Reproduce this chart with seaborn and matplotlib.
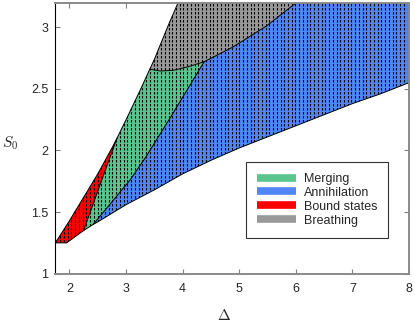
import numpy as np
import matplotlib
matplotlib.use('Agg')
import matplotlib.pyplot as plt
import seaborn as sns
from matplotlib.lines import Line2D

# boundary curves: (Delta, S0)
left_x = [1.75, 2.0, 2.25, 2.5, 2.75, 2.84, 3.0, 3.25, 3.42, 3.5, 3.75, 3.92]
left_s = [1.25, 1.43, 1.62, 1.81, 2.02, 2.10, 2.25, 2.49, 2.66, 2.74, 3.02, 3.2]

lower_x = [1.75, 1.95, 2.25, 2.42, 2.5, 3.0, 3.5, 4.0, 4.5, 5.0, 5.5, 6.0, 6.5, 7.0, 7.5, 8.0]
lower_s = [1.25, 1.25, 1.35, 1.40, 1.42, 1.56, 1.68, 1.81, 1.92, 2.02, 2.11, 2.20, 2.29, 2.38, 2.46, 2.55]

red_green_x = [2.25, 2.5, 2.84]
red_green_s = [1.35, 1.67, 2.10]

green_blue_x = [2.42, 3.07, 3.34, 3.8, 4.38]
green_blue_s = [1.40, 1.76, 1.94, 2.28, 2.72]

gray_floor_x = [3.42, 3.6, 3.83, 4.1, 4.38]
gray_floor_s = [2.66, 2.645, 2.65, 2.68, 2.72]

gray_blue_x = [4.38, 4.89, 5.48, 6.01]
gray_blue_s = [2.72, 2.84, 3.01, 3.2]

x_ticks = [2, 3, 4, 5, 6, 7, 8]
y_ticks = [1, 1.5, 2, 2.5, 3]
y_tick_labels = ['1', '1.5', '2', '2.5', '3']

labels = ['Merging', 'Annihilation', 'Bound states', 'Breathing']
colors = ['#5CC48E', '#5086F6', '#FF0000', '#999999']


def seg(xs, ss, lo, hi, rev=False):
    pts = [(x, s) for x, s in zip(xs, ss) if lo - 1e-9 <= x <= hi + 1e-9]
    return pts[::-1] if rev else pts


red_poly = (seg(left_x, left_s, 1.75, 2.84)
            + seg(red_green_x, red_green_s, 2.25, 2.84, rev=True)[1:]
            + seg(lower_x, lower_s, 1.75, 2.25, rev=True)[1:])
green_poly = (seg(left_x, left_s, 2.84, 3.42)
              + seg(gray_floor_x, gray_floor_s, 3.42, 4.38)[1:]
              + seg(green_blue_x, green_blue_s, 2.42, 4.38, rev=True)[1:]
              + seg(lower_x, lower_s, 2.25, 2.42, rev=True)[1:]
              + seg(red_green_x, red_green_s, 2.25, 2.84)[1:])
gray_poly = (seg(left_x, left_s, 3.42, 3.92)
             + seg(gray_blue_x, gray_blue_s, 4.38, 6.01, rev=True)
             + seg(gray_floor_x, gray_floor_s, 3.42, 4.38, rev=True)[1:])
blue_poly = (seg(green_blue_x, green_blue_s, 2.42, 4.38)
             + seg(gray_blue_x, gray_blue_s, 4.38, 6.01)[1:]
             + [(8.0, 3.2)]
             + seg(lower_x, lower_s, 2.42, 8.0, rev=True))

sns.set_style('ticks')
plt.rcParams['font.family'] = ['Liberation Sans', 'DejaVu Sans']
plt.rcParams['mathtext.fontset'] = 'cm'

fig, ax = plt.subplots(figsize=(4.15, 3.25), dpi=100)
fig.subplots_adjust(left=0.132, right=0.9855, bottom=0.158, top=0.992)

# dotted vertical hatching, clipped to each region
hatch_x = np.arange(1.77, 8.0, 0.066)
for poly, c in [(green_poly, colors[0]), (blue_poly, colors[1]),
                (red_poly, colors[2]), (gray_poly, colors[3])]:
    px, py = zip(*poly)
    patch = ax.fill(px, py, facecolor=c, edgecolor='none', zorder=1)[0]
    lc = ax.vlines(hatch_x, 1.0, 3.2, colors='black', linewidth=0.8,
                   linestyles=(0, (2.2, 1.4)), zorder=1.5)
    lc.set_clip_path(patch)

# region boundaries
for bx, bs in [(left_x, left_s), (lower_x, lower_s), (red_green_x, red_green_s),
               (green_blue_x, green_blue_s), (gray_floor_x, gray_floor_s),
               (gray_blue_x, gray_blue_s)]:
    sns.lineplot(x=bx, y=bs, sort=False, estimator=None, color='black',
                 lw=0.7, ax=ax, zorder=2)

ax.set_xlim(1.74, 8)
ax.set_ylim(1, 3.2)
ax.set_xticks(x_ticks)
ax.set_yticks(y_ticks)
ax.set_yticklabels(y_tick_labels)
ax.tick_params(direction='in', length=3.6, width=0.8, color='#808080',
               labelsize=9, top=True, right=True)
ax.tick_params(axis='x', pad=6.5)
ax.tick_params(axis='y', pad=4.5)
for side in ['top', 'bottom', 'right']:
    ax.spines[side].set_color('#8a8a8a')
    ax.spines[side].set_linewidth(1.4)
ax.spines['left'].set_color('black')
ax.spines['left'].set_linewidth(0.8)

ax.set_xlabel(r'$\Delta$', fontsize=11)
ax.xaxis.set_label_coords(0.478, -0.125)
ax.set_ylabel(r'$S_0$', fontsize=11, rotation=0, ha='center', va='center')
ax.yaxis.set_label_coords(-0.125, 0.482)

handles = [Line2D([0], [0], color=c, lw=5.5, solid_capstyle='butt') for c in colors]
leg = ax.legend(handles, labels, loc='upper right', bbox_to_anchor=(0.9415, 0.413),
                fontsize=9, handlelength=3.1, handletextpad=0.6, labelspacing=0.15,
                borderpad=0.9, borderaxespad=0, fancybox=False, framealpha=1,
                edgecolor='#333333')
leg.get_frame().set_linewidth(0.8)

fig.savefig('out.png', dpi=100)
